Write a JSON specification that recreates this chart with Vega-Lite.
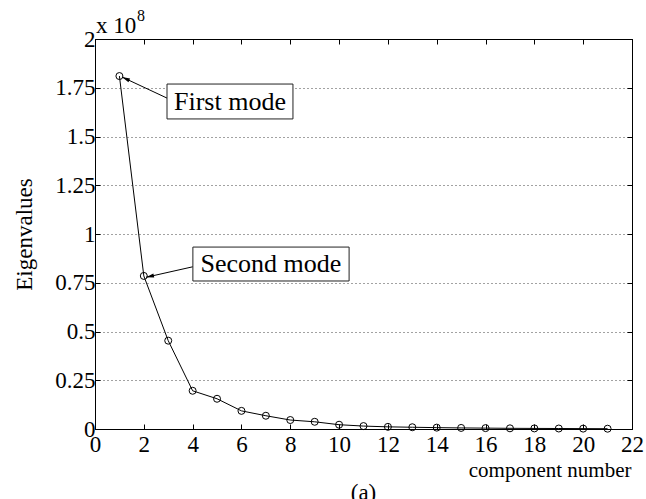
{
  "$schema": "https://vega.github.io/schema/vega-lite/v6.json",
  "width": 537,
  "height": 390,
  "autosize": "none",
  "padding": {"left": 95, "top": 39, "right": 14, "bottom": 70},
  "background": "white",
  "title": {"text": "(a)", "orient": "bottom", "font": "Liberation Serif, Times New Roman, serif", "fontSize": 23, "fontWeight": "normal", "color": "black", "offset": 2},
  "config": {
    "view": {"stroke": "black", "strokeWidth": 1},
    "font": "Liberation Serif, Times New Roman, serif",
    "axis": {
      "domainColor": "black", "tickColor": "black", "labelColor": "black", "titleColor": "black",
      "labelFont": "Liberation Serif, Times New Roman, serif", "titleFont": "Liberation Serif, Times New Roman, serif",
      "labelFontSize": 23, "titleFontSize": 23, "titleFontWeight": "normal",
      "tickSize": -5, "domainWidth": 1, "tickWidth": 1
    }
  },
  "datasets": {
    "eig": [
      {"component": 1, "eigenvalue": 181000000},
      {"component": 2, "eigenvalue": 78500000},
      {"component": 3, "eigenvalue": 45300000},
      {"component": 4, "eigenvalue": 19600000},
      {"component": 5, "eigenvalue": 15500000},
      {"component": 6, "eigenvalue": 9300000},
      {"component": 7, "eigenvalue": 6800000},
      {"component": 8, "eigenvalue": 4600000},
      {"component": 9, "eigenvalue": 3700000},
      {"component": 10, "eigenvalue": 2200000},
      {"component": 11, "eigenvalue": 1500000},
      {"component": 12, "eigenvalue": 1100000},
      {"component": 13, "eigenvalue": 900000},
      {"component": 14, "eigenvalue": 700000},
      {"component": 15, "eigenvalue": 550000},
      {"component": 16, "eigenvalue": 450000},
      {"component": 17, "eigenvalue": 350000},
      {"component": 18, "eigenvalue": 300000},
      {"component": 19, "eigenvalue": 250000},
      {"component": 20, "eigenvalue": 200000},
      {"component": 21, "eigenvalue": 150000}
    ],
    "notes": [
      {"label": "First mode", "tx": 5.53, "ty": 167900000, "bx1": 2.95, "bx2": 8.11, "by1": 176900000, "by2": 159000000, "ax1": 2.95, "ay1": 169700000, "ax2": 1.106, "ay2": 180500000, "angle": 294.5},
      {"label": "Second mode", "tx": 7.21, "ty": 84600000, "bx1": 4.01, "bx2": 10.41, "by1": 93300000, "by2": 75900000, "ax1": 4.01, "ay1": 83200000, "ax2": 2.09, "ay2": 77800000, "angle": 257.3}
    ],
    "exponent": [
      {"x": 0, "y": 200000000, "base": "x 10", "power": "8"}
    ]
  },
  "resolve": {"axis": {"x": "independent", "y": "independent"}},
  "layer": [
    {
      "data": {"name": "eig"},
      "mark": {"type": "line", "color": "black", "strokeWidth": 1},
      "encoding": {
        "x": {"field": "component", "type": "quantitative",
              "scale": {"domain": [0, 22], "nice": false, "zero": false},
              "axis": {"orient": "bottom", "values": [0, 2, 4, 6, 8, 10, 12, 14, 16, 18, 20, 22], "grid": false,
                       "title": "component number", "titleFontSize": 21, "titleAlign": "right", "titleAnchor": "end", "titleX": 536, "titleY": 47, "titleBaseline": "alphabetic",
                       "labelPadding": 9, "labelFlush": false}},
        "y": {"field": "eigenvalue", "type": "quantitative",
              "scale": {"domain": [0, 200000000], "nice": false},
              "axis": {"orient": "left", "values": [0, 25000000, 50000000, 75000000, 100000000, 125000000, 150000000, 175000000, 200000000],
                       "labelExpr": "datum.value / 100000000 + ''",
                       "grid": true, "gridDash": [1, 3], "gridColor": "#444", "gridWidth": 1,
                       "title": "Eigenvalues", "titlePadding": 18, "labelPadding": 5}}
      }
    },
    {
      "data": {"name": "eig"},
      "mark": {"type": "point", "shape": "circle", "filled": false, "color": "black", "strokeWidth": 1, "size": 49, "opacity": 1},
      "encoding": {
        "x": {"field": "component", "type": "quantitative", "axis": null},
        "y": {"field": "eigenvalue", "type": "quantitative", "axis": null}
      }
    },
    {
      "data": {"name": "notes"},
      "mark": {"type": "rule", "color": "black", "strokeWidth": 1},
      "encoding": {
        "x": {"field": "ax1", "type": "quantitative", "axis": null},
        "y": {"field": "ay1", "type": "quantitative", "axis": null},
        "x2": {"field": "ax2"},
        "y2": {"field": "ay2"}
      }
    },
    {
      "data": {"name": "notes"},
      "mark": {"type": "point", "shape": "M0,0L-0.4,1.6L0.4,1.6Z", "filled": true, "color": "black", "size": 100, "opacity": 1},
      "encoding": {
        "x": {"field": "ax2", "type": "quantitative", "axis": null},
        "y": {"field": "ay2", "type": "quantitative", "axis": null},
        "angle": {"field": "angle", "type": "quantitative", "scale": null}
      }
    },
    {
      "data": {"name": "notes"},
      "mark": {"type": "rect", "fill": "white", "stroke": "#222", "strokeWidth": 1},
      "encoding": {
        "x": {"field": "bx1", "type": "quantitative", "axis": null},
        "x2": {"field": "bx2"},
        "y": {"field": "by1", "type": "quantitative", "axis": null},
        "y2": {"field": "by2"}
      }
    },
    {
      "data": {"name": "notes"},
      "mark": {"type": "text", "fontSize": 26, "color": "black", "align": "center", "baseline": "middle"},
      "encoding": {
        "x": {"field": "tx", "type": "quantitative", "axis": null},
        "y": {"field": "ty", "type": "quantitative", "axis": null},
        "text": {"field": "label"}
      }
    },
    {
      "data": {"name": "exponent"},
      "mark": {"type": "text", "fontSize": 23, "color": "black", "align": "left", "baseline": "alphabetic", "dx": 1, "dy": -6},
      "encoding": {
        "x": {"field": "x", "type": "quantitative", "axis": null},
        "y": {"field": "y", "type": "quantitative", "axis": null},
        "text": {"field": "base"}
      }
    },
    {
      "data": {"name": "exponent"},
      "mark": {"type": "text", "fontSize": 16, "color": "black", "align": "left", "baseline": "alphabetic", "dx": 42, "dy": -18},
      "encoding": {
        "x": {"field": "x", "type": "quantitative", "axis": null},
        "y": {"field": "y", "type": "quantitative", "axis": null},
        "text": {"field": "power"}
      }
    },
    {
      "data": {"name": "eig"},
      "mark": {"type": "point", "opacity": 0},
      "encoding": {
        "x": {"field": "component", "type": "quantitative",
              "axis": {"orient": "top", "values": [0, 2, 4, 6, 8, 10, 12, 14, 16, 18, 20, 22], "labels": false, "title": null, "grid": false}},
        "y": {"field": "eigenvalue", "type": "quantitative",
              "axis": {"orient": "right", "values": [0, 25000000, 50000000, 75000000, 100000000, 125000000, 150000000, 175000000, 200000000], "labels": false, "title": null, "grid": false}}
      }
    }
  ]
}
